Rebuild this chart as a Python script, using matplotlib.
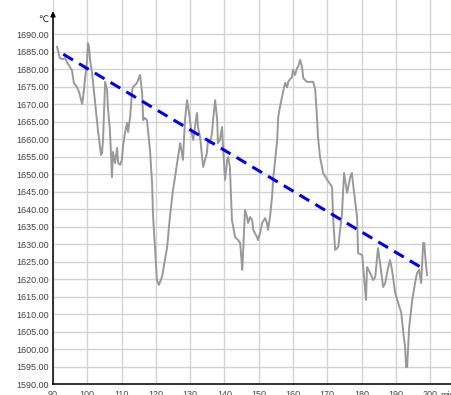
import numpy as np
import matplotlib
matplotlib.use("Agg")
import matplotlib.pyplot as plt

plt.rcParams['font.family'] = ['Liberation Sans', 'DejaVu Sans']

# furnace temperature log (minutes, degC)
minutes = [
    91.2, 92.0, 92.9, 93.5, 94.4, 95.5, 96.1, 97.0, 97.6, 98.5,
    98.8, 99.3, 99.9, 100.2, 100.5, 100.8, 101.4, 102.3, 103.1, 104.0,
    104.3, 104.6, 105.2, 105.8, 106.0, 106.6, 107.2, 107.5, 108.1, 108.7,
    109.0, 109.6, 110.1, 110.4, 111.0, 111.6, 111.9, 112.5, 113.1, 113.3,
    114.5, 114.8, 115.4, 116.0, 116.3, 116.8, 117.4, 117.7, 118.3, 118.9,
    119.2, 119.8, 120.3, 120.9, 121.8, 123.3, 124.1, 125.0, 125.6, 126.2,
    127.1, 127.6, 127.9, 128.5, 129.1, 129.7, 130.3, 130.9, 131.4, 132.0,
    132.3, 132.9, 133.8, 134.9, 135.2, 135.8, 136.4, 136.7, 137.3, 137.9,
    138.1, 138.7, 139.3, 139.6, 140.2, 140.8, 141.1, 141.6, 142.2, 143.1,
    144.0, 144.6, 145.2, 145.4, 146.0, 146.6, 146.9, 147.5, 148.1, 148.4,
    149.5, 149.8, 150.4, 151.0, 151.9, 152.4, 152.7, 153.3, 153.9, 154.2,
    154.8, 155.4, 155.7, 156.2, 156.8, 157.7, 158.3, 158.6, 159.7, 160.0,
    160.6, 161.2, 161.5, 162.1, 162.7, 163.0, 164.1, 165.9, 166.5, 167.0,
    167.3, 167.9, 168.8, 170.0, 171.4, 171.7, 172.3, 173.2, 174.3, 174.9,
    175.8, 176.7, 177.2, 177.5, 178.7, 179.0, 180.2, 181.0, 181.3, 181.6,
    182.5, 183.4, 184.0, 184.8, 185.4, 186.3, 186.9, 187.8, 188.3, 188.9,
    189.8, 190.7, 191.6, 192.1, 192.7, 193.0, 193.3, 193.9, 194.8, 195.6,
    196.2, 196.8, 197.4, 198.0, 198.3, 198.6, 199.1,
]
temps = [
    1686.4, 1683.2, 1682.9, 1683.2, 1681.5, 1679.8, 1676.1, 1674.9, 1673.5, 1670.1,
    1672.1, 1676.9, 1682.1, 1687.5, 1686.4, 1682.7, 1678.9, 1670.4, 1662.7, 1655.5,
    1656.1, 1659.8, 1676.4, 1674.1, 1669.2, 1662.7, 1649.2, 1656.4, 1653.2, 1657.5,
    1653.2, 1652.7, 1654.1, 1657.8, 1661.8, 1664.7, 1662.1, 1666.4, 1674.1, 1674.9,
    1676.1, 1676.9, 1678.4, 1673.2, 1665.5, 1666.1, 1665.5, 1662.7, 1656.9, 1647.5,
    1637.8, 1628.4, 1619.8, 1618.4, 1620.7, 1629.2, 1637.8, 1645.5, 1649.2, 1653.2,
    1658.9, 1656.1, 1654.1, 1665.5, 1671.2, 1667.5, 1662.7, 1659.8, 1663.5, 1667.5,
    1663.5, 1660.7, 1652.1, 1656.1, 1659.8, 1658.9, 1661.8, 1665.5, 1671.2, 1665.5,
    1658.9, 1659.8, 1663.5, 1657.8, 1648.4, 1654.1, 1654.9, 1652.1, 1636.9, 1632.1,
    1631.2, 1630.4, 1622.7, 1626.4, 1639.8, 1637.8, 1636.1, 1637.8, 1636.9, 1634.1,
    1632.1, 1631.2, 1633.2, 1636.1, 1637.5, 1636.1, 1634.1, 1637.8, 1643.5, 1648.4,
    1654.1, 1659.8, 1666.4, 1669.2, 1672.1, 1676.1, 1674.9, 1676.4, 1677.8, 1679.8,
    1678.4, 1680.4, 1680.7, 1682.7, 1680.4, 1677.5, 1676.4, 1676.4, 1674.1, 1666.4,
    1660.7, 1654.9, 1650.4, 1648.4, 1646.4, 1637.8, 1628.4, 1629.2, 1638.9, 1650.4,
    1644.7, 1649.2, 1650.4, 1647.5, 1637.8, 1627.5, 1626.9, 1617.8, 1614.1, 1623.5,
    1621.8, 1619.8, 1620.7, 1628.9, 1624.7, 1617.8, 1618.9, 1623.5, 1625.5, 1622.7,
    1616.1, 1613.2, 1610.4, 1605.5, 1600.7, 1594.9, 1594.9, 1606.4, 1614.1, 1618.9,
    1621.8, 1622.7, 1618.9, 1630.4, 1630.4, 1626.4, 1621.2,
]

# linear trend endpoints
trend_x = [93.0, 197.9]
trend_y = [1684.3, 1623.1]

yticks = np.arange(1590, 1691, 5)
xticks = np.arange(90, 201, 10)

fig = plt.figure(figsize=(4.51, 3.95), dpi=100)
ax = fig.add_axes([53 / 451, 1 - 384.3 / 395, 398 / 451, 384.3 / 395])
ax.set_xlim(90, 206.1)
ax.set_ylim(1590, 1699.8)

ax.set_yticks(yticks)
ax.set_yticklabels(["%.2f" % v for v in yticks])
ax.set_xticks(xticks)
ax.set_xticklabels([str(v) for v in xticks])
ax.tick_params(axis='both', length=0, labelsize=6.5, labelcolor='#444444')
ax.tick_params(axis='y', pad=3)
ax.tick_params(axis='x', pad=4)
ax.grid(True, color='#d2d2d2', linewidth=1.0)
ax.set_axisbelow(True)

for s in ['top', 'right', 'left']:
    ax.spines[s].set_visible(False)
ax.spines['bottom'].set_color('#333333')
ax.spines['bottom'].set_linewidth(1.4)

ax.plot(minutes, temps, color='#999999', linewidth=1.4, zorder=3)
ax.plot(trend_x, trend_y, color='#0000ee', linewidth=2.2, dashes=(3.7, 2.3), zorder=4)

# vertical axis with arrow head
ax.annotate('', xy=(90, 1696.6), xytext=(90, 1590),
            arrowprops=dict(arrowstyle='-|>', color='black', lw=1.1,
                            mutation_scale=7, shrinkA=0, shrinkB=0),
            annotation_clip=False, zorder=5)

fig.text(43 / 451, 1 - 20 / 395, '℃', fontsize=6.5, color='#222222',
         ha='center', va='center')
fig.text(440 / 451, 1 - 396 / 395, 'min', fontsize=6.5, color='#444444',
         ha='left', va='center')

fig.savefig('out.png', dpi=100)
